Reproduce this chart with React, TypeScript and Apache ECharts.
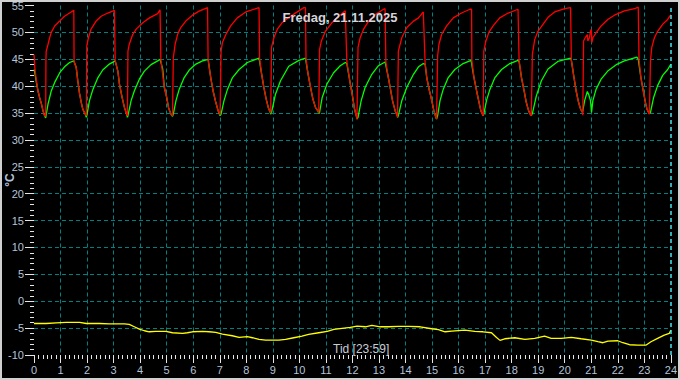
import React, { useEffect, useRef } from "react";
import * as echarts from "echarts";

const TITLE = "Fredag, 21.11.2025";
const X_NAME = "Tid [23:59]";
const Y_NAME = "°C";

const X_MIN = 0;
const X_MAX = 24;
const Y_MIN = -10;
const Y_MAX = 55;

// Red (supply) series: [hour, °C]
const redSeries: [number, number][] = [
  [0, 45.9], [0.03, 43.5], [0.09, 41.0], [0.15, 39.1], [0.21, 37.9], [0.28, 36.7], [0.34, 35.4], [0.40, 34.5], [0.44, 34.4],
  [0.45, 45.0], [0.46, 46.5], [0.53, 47.8], [0.59, 49.0], [0.65, 50.0], [0.78, 51.2], [0.97, 52.1], [1.15, 53.0], [1.34, 53.6], [1.50, 54.1],
  [1.51, 44.5], [1.59, 43.5], [1.65, 41.0], [1.72, 38.5], [1.78, 37.0], [1.84, 35.7], [1.93, 34.8], [1.97, 34.5],
  [1.99, 47.5], [2.05, 49.0], [2.15, 50.6], [2.34, 52.1], [2.53, 53.0], [2.78, 53.6], [3.03, 54.1],
  [3.06, 44.7], [3.16, 42.8], [3.22, 40.4], [3.32, 37.9], [3.41, 36.0], [3.49, 34.8], [3.52, 34.5],
  [3.54, 46.5], [3.59, 47.8], [3.72, 49.6], [3.85, 50.6], [4.10, 51.8], [4.35, 52.7], [4.66, 53.5], [4.75, 54.2],
  [4.78, 45.0], [4.85, 42.2], [4.91, 39.8], [5.00, 37.9], [5.07, 36.0], [5.16, 34.8], [5.22, 34.5],
  [5.25, 45.3], [5.32, 47.8], [5.41, 49.6], [5.53, 50.9], [5.72, 52.1], [5.97, 53.2], [6.22, 53.95], [6.54, 54.6],
  [6.56, 45.0], [6.66, 41.6], [6.75, 39.1], [6.85, 37.0], [6.94, 35.4], [7.01, 34.7],
  [7.05, 46.5], [7.10, 48.1], [7.23, 49.6], [7.41, 51.2], [7.66, 52.7], [7.98, 53.8], [8.48, 54.6],
  [8.50, 45.2], [8.58, 42.2], [8.66, 39.8], [8.75, 37.6], [8.83, 36.0], [8.89, 35.3], [8.92, 35.0],
  [8.95, 47.2], [9.04, 49.0], [9.17, 50.6], [9.35, 51.8], [9.60, 52.8], [9.98, 54.0], [10.17, 54.6], [10.23, 54.6],
  [10.25, 45.0], [10.33, 42.2], [10.42, 39.8], [10.51, 37.6], [10.61, 36.0], [10.71, 35.3], [10.73, 35.0],
  [10.76, 46.8], [10.83, 48.4], [10.98, 50.2], [11.23, 51.8], [11.48, 53.0], [11.73, 54.0],
  [11.79, 44.5], [11.92, 40.4], [12.01, 37.9], [12.08, 35.7], [12.16, 34.2], [12.17, 33.8],
  [12.21, 47.2], [12.29, 49.0], [12.42, 50.6], [12.61, 52.1], [12.86, 53.3], [13.17, 54.3], [13.23, 54.4],
  [13.26, 44.5], [13.33, 42.2], [13.42, 39.8], [13.51, 37.3], [13.61, 35.4], [13.69, 34.5], [13.70, 34.2],
  [13.73, 46.5], [13.86, 49.0], [14.05, 50.9], [14.30, 52.1], [14.49, 52.7], [14.67, 53.8],
  [14.74, 44.2], [14.80, 41.6], [14.89, 39.4], [14.99, 37.3], [15.07, 35.4], [15.15, 34.1], [15.17, 33.9],
  [15.21, 45.6], [15.26, 47.8], [15.36, 49.6], [15.55, 51.2], [15.80, 52.7], [16.11, 53.6], [16.43, 54.3], [16.49, 54.3],
  [16.50, 44.8], [16.58, 41.6], [16.68, 39.1], [16.77, 37.0], [16.84, 35.4], [16.90, 34.8], [16.93, 34.5],
  [16.95, 46.5], [17.03, 48.4], [17.14, 50.0], [17.30, 51.2], [17.55, 52.7], [17.87, 53.6], [18.24, 54.3],
  [18.28, 44.8], [18.37, 41.6], [18.47, 39.1], [18.55, 37.0], [18.64, 35.4], [18.70, 34.8], [18.74, 34.5],
  [18.78, 45.9], [18.87, 48.7], [18.99, 50.2], [19.18, 51.5], [19.37, 52.8], [19.62, 53.8], [20.00, 54.4], [20.22, 54.6],
  [20.25, 44.8], [20.35, 41.6], [20.43, 39.1], [20.52, 37.0], [20.60, 35.7], [20.67, 35.1], [20.68, 34.6],
  [20.71, 48.4], [20.77, 49.0], [20.85, 49.6], [20.87, 48.4], [20.93, 49.0], [20.97, 50.2], [21.00, 50.6], [21.02, 48.1],
  [21.06, 49.0], [21.18, 49.9], [21.37, 51.2], [21.62, 52.4], [21.87, 53.2], [22.25, 54.0], [22.63, 54.4], [22.77, 54.7],
  [22.80, 44.9], [22.87, 41.6], [22.96, 39.1], [23.04, 37.0], [23.10, 35.7], [23.16, 35.1], [23.19, 34.8],
  [23.23, 44.7], [23.28, 47.2], [23.38, 49.0], [23.50, 50.2], [23.69, 51.5], [23.88, 52.4], [24.0, 53.3],
];

// Green (return) series: [hour, °C]
const greenSeries: [number, number][] = [
  [0, 43.1], [0.03, 42.5], [0.09, 40.7], [0.15, 39.1], [0.21, 37.9], [0.28, 36.7], [0.34, 35.4], [0.40, 34.5], [0.44, 34.1],
  [0.53, 36.7], [0.65, 39.1], [0.78, 40.7], [0.97, 42.5], [1.15, 43.6], [1.34, 44.4], [1.50, 44.7],
  [1.59, 43.5], [1.65, 41.0], [1.72, 38.5], [1.78, 37.0], [1.84, 35.7], [1.93, 34.8], [1.97, 34.2],
  [1.99, 34.5], [2.09, 37.3], [2.22, 39.4], [2.41, 41.6], [2.59, 43.0], [2.84, 44.1], [3.06, 44.7],
  [3.16, 42.8], [3.22, 40.4], [3.32, 37.9], [3.41, 36.0], [3.49, 34.8], [3.52, 34.2],
  [3.54, 34.5], [3.66, 37.3], [3.78, 39.1], [3.97, 41.3], [4.16, 42.8], [4.41, 44.0], [4.66, 44.7], [4.75, 45.0],
  [4.85, 43.2], [4.91, 39.8], [5.00, 37.9], [5.07, 36.0], [5.16, 34.8], [5.22, 34.4],
  [5.25, 34.8], [5.35, 37.3], [5.47, 39.4], [5.66, 41.6], [5.85, 43.0], [6.10, 44.1], [6.35, 44.7], [6.56, 45.0],
  [6.66, 41.6], [6.75, 39.1], [6.85, 37.0], [6.94, 35.4], [7.01, 34.5],
  [7.05, 34.8], [7.16, 37.3], [7.29, 39.4], [7.48, 41.6], [7.73, 43.1], [8.04, 44.4], [8.48, 45.2],
  [8.58, 42.2], [8.66, 39.8], [8.75, 37.6], [8.83, 36.0], [8.89, 35.3], [8.92, 34.8],
  [8.95, 35.1], [9.10, 38.5], [9.29, 41.0], [9.60, 43.7], [9.98, 44.8], [10.23, 45.2],
  [10.33, 42.2], [10.42, 39.8], [10.51, 37.6], [10.61, 36.0], [10.71, 35.3], [10.73, 34.9],
  [10.76, 35.1], [10.86, 37.9], [11.04, 40.4], [11.29, 42.5], [11.54, 43.8], [11.73, 44.4], [11.79, 44.2],
  [11.92, 40.4], [12.01, 37.9], [12.08, 35.7], [12.16, 34.2], [12.17, 33.9],
  [12.21, 34.2], [12.33, 37.3], [12.48, 39.8], [12.73, 42.2], [12.98, 43.8], [13.23, 44.5],
  [13.33, 42.2], [13.42, 39.8], [13.51, 37.3], [13.61, 35.4], [13.69, 34.5], [13.70, 34.2],
  [13.73, 34.5], [13.86, 37.3], [14.05, 39.8], [14.30, 42.2], [14.49, 43.6], [14.67, 44.2], [14.74, 44.1],
  [14.80, 41.6], [14.89, 39.4], [14.99, 37.3], [15.07, 35.4], [15.15, 34.1], [15.17, 33.9],
  [15.21, 34.5], [15.30, 37.3], [15.42, 39.4], [15.61, 41.6], [15.86, 43.1], [16.17, 44.2], [16.47, 44.8],
  [16.58, 41.6], [16.68, 39.1], [16.77, 37.0], [16.84, 35.4], [16.90, 34.8], [16.93, 34.5],
  [16.95, 34.8], [17.05, 37.3], [17.18, 39.4], [17.37, 41.6], [17.62, 43.1], [17.93, 44.2], [18.24, 44.8], [18.28, 44.6],
  [18.37, 41.6], [18.47, 39.1], [18.55, 37.0], [18.64, 35.4], [18.70, 34.8], [18.74, 34.5],
  [18.78, 34.9], [18.93, 38.2], [19.12, 41.0], [19.37, 43.2], [19.74, 44.6], [20.22, 45.2], [20.25, 44.8],
  [20.35, 41.6], [20.43, 39.1], [20.52, 37.0], [20.60, 35.7], [20.67, 35.1], [20.68, 35.0],
  [20.75, 37.3], [20.85, 39.0], [20.90, 38.5], [20.97, 37.3], [21.01, 35.1],
  [21.06, 37.3], [21.18, 39.4], [21.37, 41.3], [21.62, 42.8], [21.94, 44.0], [22.25, 44.7], [22.72, 45.4], [22.77, 45.0],
  [22.87, 41.6], [22.96, 39.1], [23.04, 37.0], [23.10, 35.7], [23.16, 35.1], [23.19, 34.9],
  [23.23, 35.1], [23.35, 37.9], [23.50, 40.1], [23.69, 42.0], [23.88, 43.1], [24.0, 44.1],
];

// Yellow (outdoor) series: [hour, °C]
const yellowSeries: [number, number][] = [
  [0.0, -4.14], [0.46, -4.14], [0.84, -4.01], [1.21, -3.95], [1.72, -3.95], [1.97, -4.14], [2.47, -4.14],
  [2.84, -4.2], [3.09, -4.2], [3.41, -4.2], [3.59, -4.32], [3.78, -4.75], [3.97, -5.19], [4.16, -5.49],
  [4.34, -5.68], [4.59, -5.62], [4.97, -5.62], [5.22, -5.86], [5.6, -5.99], [5.78, -5.86], [5.97, -5.68],
  [6.35, -5.62], [6.6, -5.68], [6.85, -5.8], [7.1, -6.11], [7.47, -6.42], [7.73, -6.73], [8.04, -6.6],
  [8.23, -6.79], [8.48, -7.1], [8.73, -7.22], [8.98, -7.22], [9.23, -7.22], [9.48, -7.1], [9.79, -6.79],
  [10.1, -6.48], [10.35, -6.17], [10.73, -5.86], [11.05, -5.62], [11.3, -5.25], [11.61, -5.06], [11.92, -4.88],
  [12.17, -4.63], [12.49, -4.75], [12.73, -4.51], [13.05, -4.75], [13.36, -4.75], [13.74, -4.69], [14.11, -4.69],
  [14.55, -4.75], [14.99, -5.12], [15.24, -5.3], [15.49, -5.68], [15.74, -5.56], [16.24, -5.37], [16.61, -5.62],
  [16.92, -5.68], [17.24, -5.86], [17.43, -6.73], [17.56, -7.28], [17.74, -6.98], [18.12, -6.79], [18.5, -7.1],
  [18.87, -6.91], [19.24, -6.48], [19.49, -6.91], [19.87, -6.91], [20.25, -6.73], [20.62, -6.98], [21.0, -7.22],
  [21.25, -7.53], [21.44, -7.72], [21.63, -7.41], [22.0, -7.35], [22.19, -7.72], [22.44, -8.09], [22.75, -8.15],
  [23.07, -8.15], [23.25, -7.53], [23.5, -6.91], [23.75, -6.3], [23.94, -5.99], [24.0, -5.37],
];

const FONT = "'Liberation Sans', Arial, sans-serif";
const GRID_COLOR = "#008080";
const LABEL_COLOR = "#b4c4da";
const TICK_COLOR = "#e6e6e6";

export default function App() {
  const ref = useRef<HTMLDivElement>(null);

  useEffect(() => {
    if (!ref.current) return;
    const chart = echarts.init(ref.current, null, { renderer: "svg" });
    chart.setOption({
      animation: false,
      backgroundColor: "#000000",
      title: {
        text: TITLE,
        left: "center",
        top: 11,
        padding: 0,
        textStyle: { color: "#d4d4dc", fontSize: 13, fontWeight: "bold", fontFamily: FONT },
      },
      grid: { left: 34, right: 7, top: 4, bottom: 25, containLabel: false },
      xAxis: {
        type: "value",
        min: X_MIN,
        max: X_MAX,
        interval: 1,
        axisLine: { show: false, onZero: false },
        axisTick: { show: true, length: 8, lineStyle: { color: TICK_COLOR, width: 1 } },
        minorTick: { show: true, splitNumber: 6, length: 4, lineStyle: { color: TICK_COLOR, width: 1 } },
        axisLabel: { color: LABEL_COLOR, fontSize: 11, fontFamily: FONT, margin: 9 },
        splitLine: {
          show: true,
          showMinLine: false,
          showMaxLine: false,
          lineStyle: { color: GRID_COLOR, type: [4, 3], width: 1 },
        },
      },
      yAxis: {
        type: "value",
        min: Y_MIN,
        max: Y_MAX,
        interval: 5,
        axisLine: { show: false, onZero: false },
        axisTick: { show: true, length: 9, lineStyle: { color: TICK_COLOR, width: 1 } },
        minorTick: { show: true, splitNumber: 5, length: 4, lineStyle: { color: TICK_COLOR, width: 1 } },
        axisLabel: { color: LABEL_COLOR, fontSize: 11, fontFamily: FONT, margin: 10 },
        splitLine: {
          show: true,
          showMinLine: false,
          showMaxLine: false,
          lineStyle: { color: GRID_COLOR, type: [4, 3], width: 1 },
        },
      },
      graphic: [
        {
          type: "text",
          left: 333,
          top: 343,
          style: { text: X_NAME, fill: "#c8ccd4", fontSize: 12, fontFamily: FONT },
          silent: true,
        },
        {
          type: "text",
          x: 10,
          y: 180,
          rotation: Math.PI / 2,
          style: {
            text: Y_NAME,
            fill: LABEL_COLOR,
            fontSize: 12,
            fontWeight: "bold",
            fontFamily: FONT,
            align: "center",
            verticalAlign: "middle",
          },
          silent: true,
        },
        {
          type: "rect",
          shape: { x: 1, y: 1, width: 678, height: 378 },
          style: { fill: "none", stroke: "#d0d0d0", lineWidth: 2 },
          silent: true,
          z: 100,
        },
      ],
      series: [
        {
          type: "line",
          data: yellowSeries,
          showSymbol: false,
          symbol: "none",
          lineStyle: { color: "#ffff00", width: 1.3 },
          markLine: {
            silent: true,
            symbol: "none",
            label: { show: false },
            lineStyle: { color: "#40e8f0", type: [4, 3], width: 1.5 },
            data: [{ xAxis: X_MAX }],
          },
        },
        {
          type: "line",
          data: greenSeries,
          showSymbol: false,
          symbol: "none",
          lineStyle: { color: "#00ff00", width: 1.3 },
        },
        {
          type: "line",
          data: redSeries,
          showSymbol: false,
          symbol: "none",
          lineStyle: { color: "#ff0000", width: 1.3 },
        },
      ],
    });
    return () => chart.dispose();
  }, []);

  return (
    <div
      ref={ref}
      style={{ position: "fixed", left: 0, top: 0, width: 680, height: 380, background: "#000" }}
    />
  );
}
